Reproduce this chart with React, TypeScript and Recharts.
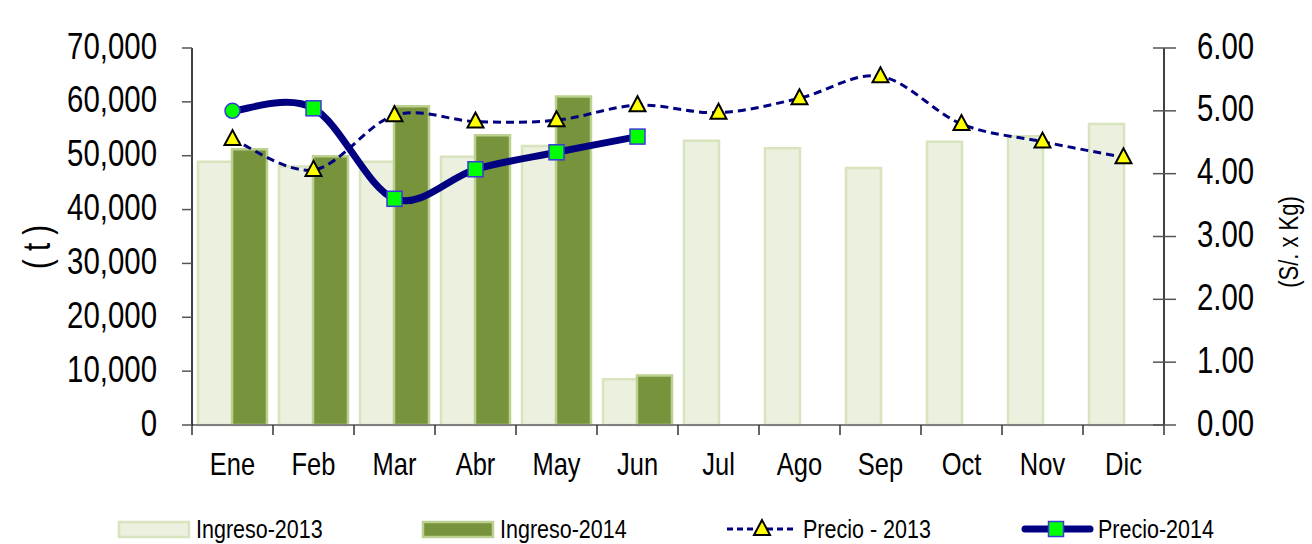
import { ComposedChart, Bar, Line, XAxis, YAxis } from 'recharts'

const MONTHS = ['Ene', 'Feb', 'Mar', 'Abr', 'May', 'Jun', 'Jul', 'Ago', 'Sep', 'Oct', 'Nov', 'Dic']

const INGRESO_2013 = [48900, 48000, 48900, 49800, 51800, 8500, 52800, 51400, 47700, 52600, 53600, 55900]
const INGRESO_2014 = [51200, 49900, 59200, 53800, 61000, 9200, null, null, null, null, null, null]
const PRECIO_2013 = [4.55, 4.06, 4.93, 4.83, 4.85, 5.09, 4.97, 5.2, 5.55, 4.79, 4.51, 4.26]
const PRECIO_2014 = [5.0, 5.04, 3.6, 4.07, 4.34, 4.59, null, null, null, null, null, null]

const LEFT_TICKS = [0, 10000, 20000, 30000, 40000, 50000, 60000, 70000]
const RIGHT_TICKS = [0, 1, 2, 3, 4, 5, 6]

const FONT = '"Liberation Sans", Arial, sans-serif'
const NAVY = '#000080'
const C13_FILL = '#EBF1DE'
const C13_STROKE = '#D7E4BD'
const C14_FILL = '#77933C'
const C14_STROKE = '#BCD08F'
const BAND = 81

const data = MONTHS.map((m, i) => ({
  month: m,
  ingreso2013: INGRESO_2013[i],
  ingreso2014: INGRESO_2014[i],
  precio2013: PRECIO_2013[i],
  precio2014: PRECIO_2014[i],
}))

// Excel-like smoothed line: catmull-rom segments as cubic beziers
const excelCurve = (context: any) => {
  let pts: number[][] = []
  return {
    areaStart() {},
    areaEnd() {},
    lineStart() {
      pts = []
    },
    point(x: number, y: number) {
      pts.push([+x, +y])
    },
    lineEnd() {
      if (pts.length === 0) return
      context.moveTo(pts[0][0], pts[0][1])
      if (pts.length === 1) {
        context.lineTo(pts[0][0], pts[0][1])
        return
      }
      for (let i = 0; i < pts.length - 1; i++) {
        const p0 = pts[i - 1] || pts[i]
        const p1 = pts[i]
        const p2 = pts[i + 1]
        const p3 = pts[i + 2] || pts[i + 1]
        context.bezierCurveTo(
          p1[0] + (p2[0] - p0[0]) / 6,
          p1[1] + (p2[1] - p0[1]) / 6,
          p2[0] - (p3[0] - p1[0]) / 6,
          p2[1] - (p3[1] - p1[1]) / 6,
          p2[0],
          p2[1]
        )
      }
    },
  }
}

// stretched text, the original image is squeezed horizontally
function Stretch({ x, y, size, anchor, sy, children }: any) {
  return (
    <text
      transform={`translate(${x},${y}) scale(1,${sy})`}
      textAnchor={anchor}
      fontSize={size}
      fontFamily={FONT}
      fill="#000"
    >
      {children}
    </text>
  )
}

function LeftTick({ x, y, payload }: any) {
  return (
    <g>
      <line x1={x - 10} x2={x} y1={y} y2={y} stroke="#555" strokeWidth={1.5} />
      <Stretch x={x - 35} y={y + 10.5} size={29.4} anchor="end" sy={1.24}>
        {payload.value.toLocaleString('en-US')}
      </Stretch>
    </g>
  )
}

function RightTick({ x, y, payload }: any) {
  return (
    <g>
      <line x1={x - 11} x2={x + 12} y1={y} y2={y} stroke="#555" strokeWidth={1.5} />
      <Stretch x={x + 33} y={y + 10.5} size={29.4} anchor="start" sy={1.24}>
        {Number(payload.value).toFixed(2)}
      </Stretch>
    </g>
  )
}

function MonthTick({ x, y, payload, index }: any) {
  return (
    <g>
      <line x1={x - BAND / 2} x2={x - BAND / 2} y1={y} y2={y + 10} stroke="#333" strokeWidth={1.5} />
      {index === MONTHS.length - 1 && (
        <line x1={x + BAND / 2} x2={x + BAND / 2} y1={y} y2={y + 10} stroke="#333" strokeWidth={1.5} />
      )}
      <Stretch x={x} y={y + 50} size={25.5} anchor="middle" sy={1.26}>
        {payload.value}
      </Stretch>
    </g>
  )
}

function Triangle({ cx, cy }: { cx: number; cy: number }) {
  return (
    <polygon
      points={`${cx},${cy - 9} ${cx - 8},${cy + 6} ${cx + 8},${cy + 6}`}
      fill="#FFFF00"
      stroke="#000"
      strokeWidth={2}
      strokeLinejoin="miter"
    />
  )
}

function Square({ cx, cy }: { cx: number; cy: number }) {
  return (
    <rect x={cx - 7.5} y={cy - 7.5} width={15} height={15} fill="#00FF00" stroke="#3a3ad8" strokeWidth={1.5} />
  )
}

const triangleDot = (props: any) => {
  const { cx, cy, index } = props
  if (cy == null || isNaN(cy)) return <g key={`t${index}`} />
  return (
    <g key={`t${index}`}>
      <Triangle cx={cx} cy={cy} />
    </g>
  )
}

const squareDot = (props: any) => {
  const { cx, cy, index } = props
  if (cy == null || isNaN(cy)) return <g key={`s${index}`} />
  if (index === 0) {
    return (
      <circle key={`s${index}`} cx={cx} cy={cy} r={7.5} fill="#00FF00" stroke="#3a3ad8" strokeWidth={1.5} />
    )
  }
  return (
    <g key={`s${index}`}>
      <Square cx={cx} cy={cy} />
    </g>
  )
}

function LegendRow() {
  const cy = 29
  return (
    <svg width={1312} height={44} style={{ position: 'absolute', left: 0, top: 500 }}>
      <rect x={119} y={cy - 7} width={70} height={15} fill={C13_FILL} stroke={C13_STROKE} strokeWidth={2.5} />
      <Stretch x={196} y={cy + 9} size={21.5} anchor="start" sy={1.19}>Ingreso-2013</Stretch>

      <rect x={423} y={cy - 7} width={70} height={15} fill={C14_FILL} stroke={C14_STROKE} strokeWidth={2.5} />
      <Stretch x={500} y={cy + 9} size={21.5} anchor="start" sy={1.19}>Ingreso-2014</Stretch>

      <line x1={727} x2={795} y1={cy} y2={cy} stroke={NAVY} strokeWidth={3} strokeDasharray="6 4" />
      <Triangle cx={762} cy={cy} />
      <Stretch x={803} y={cy + 9} size={21.5} anchor="start" sy={1.19}>Precio - 2013</Stretch>

      <line x1={1025} x2={1090} y1={cy} y2={cy} stroke={NAVY} strokeWidth={7} strokeLinecap="round" />
      <Square cx={1056} cy={cy} />
      <Stretch x={1098} y={cy + 9} size={21.5} anchor="start" sy={1.19}>Precio-2014</Stretch>
    </svg>
  )
}

export default function App() {
  return (
    <div style={{ position: 'absolute', left: 0, top: 0, width: 1312, height: 544, background: '#fff' }}>
      <ComposedChart
        width={1312}
        height={500}
        data={data}
        margin={{ top: 48, right: 0, bottom: 0, left: 0 }}
        barGap={-1}
        barCategoryGap={6}
      >
        <XAxis
          dataKey="month"
          height={75}
          interval={0}
          tickSize={0}
          tickMargin={0}
          tickLine={false}
          axisLine={{ stroke: '#808080', strokeWidth: 2 }}
          tick={<MonthTick />}
        />
        <YAxis
          yAxisId="left"
          orientation="left"
          width={192}
          domain={[0, 70000]}
          ticks={LEFT_TICKS}
          interval={0}
          tickSize={0}
          tickMargin={0}
          tickLine={false}
          axisLine={{ stroke: '#000', strokeWidth: 1.5 }}
          tick={<LeftTick />}
          label={{
            value: '( t )',
            position: 'insideLeft',
            content: () => (
              <text
                transform="translate(37,247) scale(1.3,1) rotate(-90)"
                textAnchor="middle"
                dominantBaseline="central"
                fontSize={29.4}
                fontFamily={FONT}
                fill="#000"
              >
                ( t )
              </text>
            ),
          }}
        />
        <YAxis
          yAxisId="right"
          orientation="right"
          width={148}
          domain={[0, 6]}
          ticks={RIGHT_TICKS}
          interval={0}
          tickSize={0}
          tickMargin={0}
          tickLine={false}
          axisLine={{ stroke: '#000', strokeWidth: 1.5 }}
          tick={<RightTick />}
          label={{
            value: '(S/. x Kg)',
            position: 'insideRight',
            content: () => (
              <text
                transform="translate(1298,242) scale(1.25,1) rotate(-90)"
                textAnchor="middle"
                fontSize={22}
                fontFamily={FONT}
                fill="#000"
              >
                (S/. x Kg)
              </text>
            ),
          }}
        />
        <Bar
          yAxisId="left"
          dataKey="ingreso2013"
          barSize={35}
          fill={C13_FILL}
          stroke={C13_STROKE}
          strokeWidth={2.5}
          isAnimationActive={false}
        />
        <Bar
          yAxisId="left"
          dataKey="ingreso2014"
          barSize={35}
          fill={C14_FILL}
          stroke={C14_STROKE}
          strokeWidth={2.5}
          isAnimationActive={false}
        />
        <Line
          yAxisId="right"
          dataKey="precio2013"
          type={excelCurve as any}
          stroke={NAVY}
          strokeWidth={3}
          strokeDasharray="8 5"
          dot={triangleDot}
          activeDot={false}
          isAnimationActive={false}
        />
        <Line
          yAxisId="right"
          dataKey="precio2014"
          type={excelCurve as any}
          stroke={NAVY}
          strokeWidth={7}
          dot={squareDot}
          activeDot={false}
          isAnimationActive={false}
        />
      </ComposedChart>
      <LegendRow />
    </div>
  )
}
